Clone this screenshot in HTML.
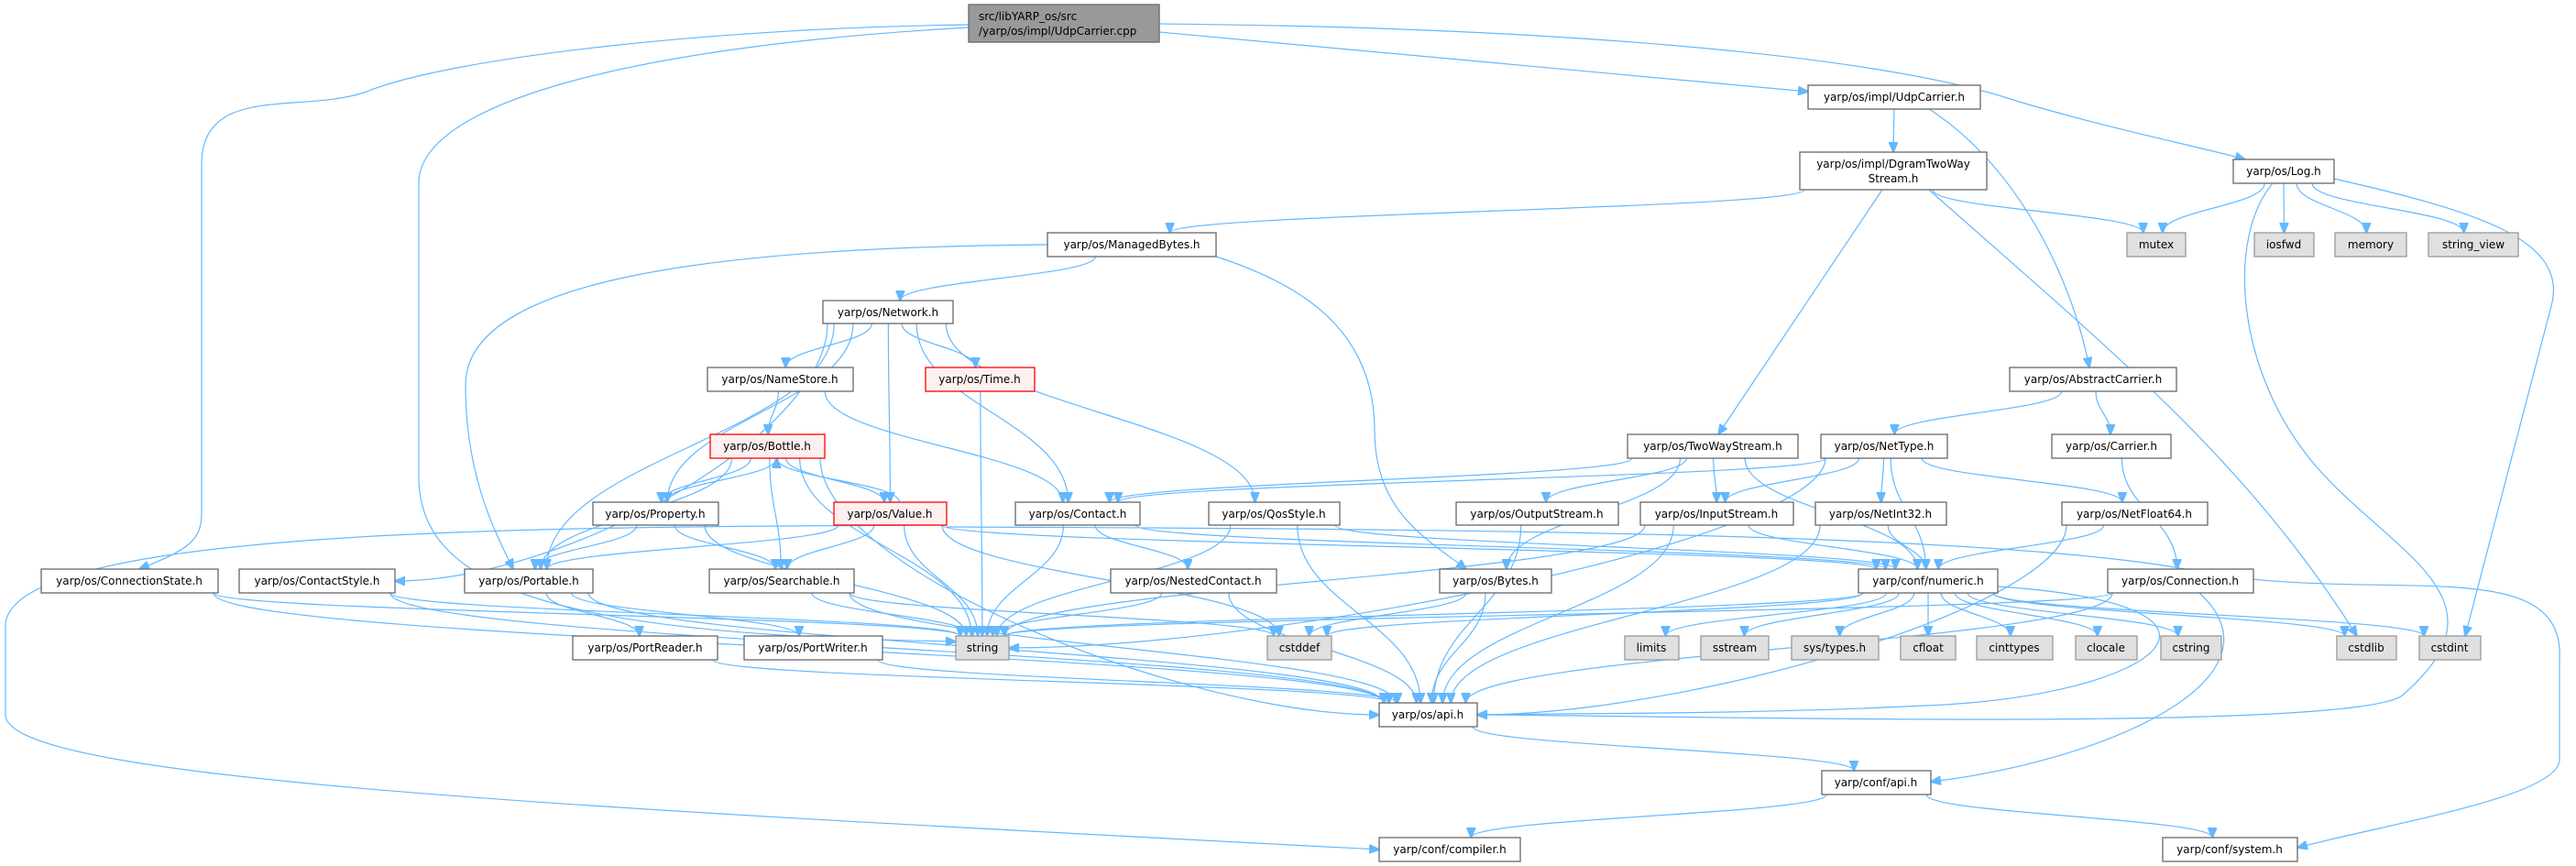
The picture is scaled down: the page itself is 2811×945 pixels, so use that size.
<!DOCTYPE html>
<html><head><meta charset="utf-8">
<style>
html,body{margin:0;padding:0;background:#fff;}
svg{display:block;}
text{font-family:"DejaVu Sans","Liberation Sans",sans-serif;font-size:12px;fill:#000;}
</style></head>
<body>
<svg id="g" width="2811" height="945" viewBox="0 0 2811 945" xmlns="http://www.w3.org/2000/svg">
<defs>
<marker id="ah" markerWidth="12" markerHeight="10" refX="11" refY="5" orient="auto" markerUnits="userSpaceOnUse">
<path d="M0,0 L12,5 L0,10 z" fill="#63b8ff" stroke="#63b8ff"/>
</marker>
</defs>
<g id="edges" fill="none" stroke="#63b8ff" stroke-width="1.2"></g>
<g id="nodes" stroke-width="1.3">
<rect x="1057" y="5" width="208" height="41" fill="#999999" stroke="#666666"/>
<text x="1068" y="22">src/libYARP_os/src</text><text x="1068" y="38">/yarp/os/impl/UdpCarrier.cpp</text>

<rect x="1973" y="93" width="188" height="26" fill="#fff" stroke="#666"/><text x="2067" y="110" text-anchor="middle">yarp/os/impl/UdpCarrier.h</text>
<rect x="1964" y="166" width="204" height="41" fill="#fff" stroke="#666"/><text x="2066" y="183" text-anchor="middle">yarp/os/impl/DgramTwoWay</text><text x="2066" y="199" text-anchor="middle">Stream.h</text>
<rect x="2437" y="174" width="110" height="26" fill="#fff" stroke="#666"/><text x="2492" y="191" text-anchor="middle">yarp/os/Log.h</text>
<rect x="2321" y="254" width="64" height="26" fill="#e0e0e0" stroke="#999"/><text x="2353" y="271" text-anchor="middle">mutex</text>
<rect x="2460" y="254" width="65" height="26" fill="#e0e0e0" stroke="#999"/><text x="2492" y="271" text-anchor="middle">iosfwd</text>
<rect x="2548" y="254" width="78" height="26" fill="#e0e0e0" stroke="#999"/><text x="2587" y="271" text-anchor="middle">memory</text>
<rect x="2650" y="254" width="98" height="26" fill="#e0e0e0" stroke="#999"/><text x="2699" y="271" text-anchor="middle">string_view</text>
<rect x="1143" y="254" width="184" height="26" fill="#fff" stroke="#666"/><text x="1235" y="271" text-anchor="middle">yarp/os/ManagedBytes.h</text>
<rect x="898" y="328" width="142" height="25" fill="#fff" stroke="#666"/><text x="969" y="345" text-anchor="middle">yarp/os/Network.h</text>
<rect x="772" y="401" width="159" height="26" fill="#fff" stroke="#666"/><text x="851" y="418" text-anchor="middle">yarp/os/NameStore.h</text>
<rect x="1010" y="401" width="119" height="26" fill="#fff0f0" stroke="#ff0000"/><text x="1069" y="418" text-anchor="middle">yarp/os/Time.h</text>
<rect x="2193" y="401" width="182" height="26" fill="#fff" stroke="#666"/><text x="2284" y="418" text-anchor="middle">yarp/os/AbstractCarrier.h</text>
<rect x="775" y="474" width="125" height="26" fill="#fff0f0" stroke="#ff0000"/><text x="837" y="491" text-anchor="middle">yarp/os/Bottle.h</text>
<rect x="1776" y="474" width="186" height="26" fill="#fff" stroke="#666"/><text x="1869" y="491" text-anchor="middle">yarp/os/TwoWayStream.h</text>
<rect x="1987" y="474" width="138" height="26" fill="#fff" stroke="#666"/><text x="2056" y="491" text-anchor="middle">yarp/os/NetType.h</text>
<rect x="2239" y="474" width="130" height="26" fill="#fff" stroke="#666"/><text x="2304" y="491" text-anchor="middle">yarp/os/Carrier.h</text>
<rect x="647" y="548" width="137" height="25" fill="#fff" stroke="#666"/><text x="715" y="565" text-anchor="middle">yarp/os/Property.h</text>
<rect x="910" y="548" width="123" height="25" fill="#fff0f0" stroke="#ff0000"/><text x="971" y="565" text-anchor="middle">yarp/os/Value.h</text>
<rect x="1108" y="548" width="136" height="25" fill="#fff" stroke="#666"/><text x="1176" y="565" text-anchor="middle">yarp/os/Contact.h</text>
<rect x="1319" y="548" width="143" height="25" fill="#fff" stroke="#666"/><text x="1390" y="565" text-anchor="middle">yarp/os/QosStyle.h</text>
<rect x="1589" y="548" width="177" height="25" fill="#fff" stroke="#666"/><text x="1677" y="565" text-anchor="middle">yarp/os/OutputStream.h</text>
<rect x="1790" y="548" width="167" height="25" fill="#fff" stroke="#666"/><text x="1873" y="565" text-anchor="middle">yarp/os/InputStream.h</text>
<rect x="1981" y="548" width="143" height="25" fill="#fff" stroke="#666"/><text x="2052" y="565" text-anchor="middle">yarp/os/NetInt32.h</text>
<rect x="2250" y="548" width="159" height="25" fill="#fff" stroke="#666"/><text x="2329" y="565" text-anchor="middle">yarp/os/NetFloat64.h</text>
<rect x="45" y="621" width="193" height="26" fill="#fff" stroke="#666"/><text x="141" y="638" text-anchor="middle">yarp/os/ConnectionState.h</text>
<rect x="261" y="621" width="170" height="26" fill="#fff" stroke="#666"/><text x="346" y="638" text-anchor="middle">yarp/os/ContactStyle.h</text>
<rect x="507" y="621" width="140" height="26" fill="#fff" stroke="#666"/><text x="577" y="638" text-anchor="middle">yarp/os/Portable.h</text>
<rect x="774" y="621" width="158" height="26" fill="#fff" stroke="#666"/><text x="853" y="638" text-anchor="middle">yarp/os/Searchable.h</text>
<rect x="1212" y="621" width="181" height="26" fill="#fff" stroke="#666"/><text x="1302" y="638" text-anchor="middle">yarp/os/NestedContact.h</text>
<rect x="1571" y="621" width="122" height="26" fill="#fff" stroke="#666"/><text x="1632" y="638" text-anchor="middle">yarp/os/Bytes.h</text>
<rect x="2028" y="621" width="152" height="26" fill="#fff" stroke="#666"/><text x="2104" y="638" text-anchor="middle">yarp/conf/numeric.h</text>
<rect x="2300" y="621" width="159" height="26" fill="#fff" stroke="#666"/><text x="2379" y="638" text-anchor="middle">yarp/os/Connection.h</text>
<rect x="625" y="694" width="158" height="26" fill="#fff" stroke="#666"/><text x="704" y="711" text-anchor="middle">yarp/os/PortReader.h</text>
<rect x="812" y="694" width="151" height="26" fill="#fff" stroke="#666"/><text x="887" y="711" text-anchor="middle">yarp/os/PortWriter.h</text>
<rect x="1043" y="694" width="58" height="26" fill="#e0e0e0" stroke="#999"/><text x="1072" y="711" text-anchor="middle">string</text>
<rect x="1383" y="694" width="70" height="26" fill="#e0e0e0" stroke="#999"/><text x="1418" y="711" text-anchor="middle">cstddef</text>
<rect x="1773" y="694" width="59" height="26" fill="#e0e0e0" stroke="#999"/><text x="1802" y="711" text-anchor="middle">limits</text>
<rect x="1856" y="694" width="74" height="26" fill="#e0e0e0" stroke="#999"/><text x="1893" y="711" text-anchor="middle">sstream</text>
<rect x="1955" y="694" width="95" height="26" fill="#e0e0e0" stroke="#999"/><text x="2002" y="711" text-anchor="middle">sys/types.h</text>
<rect x="2074" y="694" width="60" height="26" fill="#e0e0e0" stroke="#999"/><text x="2104" y="711" text-anchor="middle">cfloat</text>
<rect x="2157" y="694" width="83" height="26" fill="#e0e0e0" stroke="#999"/><text x="2198" y="711" text-anchor="middle">cinttypes</text>
<rect x="2265" y="694" width="67" height="26" fill="#e0e0e0" stroke="#999"/><text x="2298" y="711" text-anchor="middle">clocale</text>
<rect x="2358" y="694" width="66" height="26" fill="#e0e0e0" stroke="#999"/><text x="2391" y="711" text-anchor="middle">cstring</text>
<rect x="2550" y="694" width="65" height="26" fill="#e0e0e0" stroke="#999"/><text x="2582" y="711" text-anchor="middle">cstdlib</text>
<rect x="2640" y="694" width="67" height="26" fill="#e0e0e0" stroke="#999"/><text x="2673" y="711" text-anchor="middle">cstdint</text>
<rect x="1505" y="767" width="107" height="26" fill="#fff" stroke="#666"/><text x="1558" y="784" text-anchor="middle">yarp/os/api.h</text>
<rect x="1988" y="841" width="119" height="26" fill="#fff" stroke="#666"/><text x="2047" y="858" text-anchor="middle">yarp/conf/api.h</text>
<rect x="1505" y="914" width="154" height="26" fill="#fff" stroke="#666"/><text x="1582" y="931" text-anchor="middle">yarp/conf/compiler.h</text>
<rect x="2360" y="914" width="147" height="26" fill="#fff" stroke="#666"/><text x="2433" y="931" text-anchor="middle">yarp/conf/system.h</text>
</g>
</svg>
<script>
var N={
T:[1057,5,208,41],UC:[1973,93,188,26],DG:[1964,166,204,41],LOG:[2437,174,110,26],
MUT:[2321,254,64,26],IOS:[2460,254,65,26],MEM:[2548,254,78,26],SV:[2650,254,98,26],
MB:[1143,254,184,26],NET:[898,328,142,25],NS:[772,401,159,26],TIME:[1010,401,119,26],
AC:[2193,401,182,26],BOT:[775,474,125,26],TWS:[1776,474,186,26],NT:[1987,474,138,26],
CAR:[2239,474,130,26],PROP:[647,548,137,25],VAL:[910,548,123,25],CON:[1108,548,136,25],
QOS:[1319,548,143,25],OS:[1589,548,177,25],IS:[1790,548,167,25],NI:[1981,548,143,25],
NF:[2250,548,159,25],CS:[45,621,193,26],CST:[261,621,170,26],POR:[507,621,140,26],
SEA:[774,621,158,26],NC:[1212,621,181,26],BY:[1571,621,122,26],NUM:[2028,621,152,26],
CONN:[2300,621,159,26],PR:[625,694,158,26],PW:[812,694,151,26],STR:[1043,694,58,26],
CDD:[1383,694,70,26],LIM:[1773,694,59,26],SS:[1856,694,74,26],ST:[1955,694,95,26],
CF:[2074,694,60,26],CIT:[2157,694,83,26],CLO:[2265,694,67,26],CSTR:[2358,694,66,26],
CSL:[2550,694,65,26],CSI:[2640,694,67,26],API:[1505,767,107,26],CAPI:[1988,841,119,26],
COMP:[1505,914,154,26],SYS:[2360,914,147,26]};
var C={
"T CS":"M1057,27 C800,30 500,60 400,100 C330,125 220,90 220,180 L220,560 C220,590 205,600 152,621",
"T STR":"M1057,30 C700,50 457,110 457,200 L457,520 C457,640 600,693 1043,700",
"T UC":"M1265,35 L1973,100",
"T LOG":"M1265,26 C1700,30 2050,60 2200,110 C2300,140 2400,160 2450,174",
"MB POR":"M1143,267 C800,270 508,300 508,420 C508,520 540,580 560,621",
"MB BY":"M1327,280 C1420,310 1500,360 1500,470 C1500,560 1560,590 1600,621",
"VAL COMP":"M1033,573 C600,575 20,575 6,680 L6,780 C6,850 600,880 1505,927",
"VAL SYS":"M1033,575 C1600,577 2200,582 2400,624 C2600,660 2800,600 2793,720 L2793,830 C2790,870 2600,900 2507,925",
"LOG API":"M2480,200 C2430,260 2440,400 2520,500 C2600,600 2750,650 2620,760 C2550,800 1800,780 1612,780",
"LOG CSI":"M2547,195 C2700,230 2800,260 2785,330 L2690,694",
"DG CSL":"M2105,207 C2300,380 2450,500 2572,694",
"DG TWS":"M2054,207 L1875,474",
"UC AC":"M2105,119 C2200,180 2260,300 2280,401",
"CONN CAPI":"M2400,647 C2500,740 2300,830 2107,853",
"NUM API":"M2180,640 C2480,660 2360,760 2100,770 C1900,780 1700,778 1612,780"
};
var E=[
"T UC","T LOG","T CS","T STR","UC DG","UC AC","DG MB","DG MUT","DG TWS","DG CSL",
"LOG MUT","LOG IOS","LOG MEM","LOG SV","LOG API","LOG CSI",
"AC NT","AC CAR","CAR CONN","MB NET","MB POR","MB BY",
"NET NS","NET TIME","NET VAL","NET CON","NET QOS","NET PROP","NET POR","NET CST",
"NS BOT","NS CON","TIME STR",
"BOT PROP","BOT VAL","BOT SEA","BOT POR","BOT STR","BOT API",
"PROP BOT","PROP POR","PROP SEA","PROP STR",
"VAL BOT","VAL SEA","VAL POR","VAL STR","VAL NUM","VAL CDD","VAL COMP","VAL SYS",
"CON STR","CON NC","CON NUM","QOS STR","QOS API","QOS NUM","NC STR","NC API",
"SEA STR","SEA CDD","SEA API","POR PR","POR PW","POR API","PR API","PW API",
"CS STR","CS API","CST STR","CST API",
"TWS CON","TWS OS","TWS IS","TWS BY","TWS NUM","OS API","IS STR","IS API","IS NUM",
"NT STR","NT IS","NT NI","NT NF","NT NUM","NT CON","NI NUM","NI API","NF NUM","NF API",
"BY CDD","BY API",
"NUM STR","NUM CDD","NUM LIM","NUM SS","NUM ST","NUM CF","NUM CIT","NUM CLO","NUM CSTR","NUM CSL","NUM CSI","NUM API",
"CONN STR","CONN API","CONN CAPI","API CAPI","CAPI COMP","CAPI SYS"];
var g=document.getElementById('edges'),ns="http://www.w3.org/2000/svg";
E.forEach(function(e){
 var p=e.split(" "),a=N[p[0]],b=N[p[1]];
 var ax=a[0]+a[2]/2,ay=a[1]+a[3]/2,bx=b[0]+b[2]/2,by=b[1]+b[3]/2,d;
 if(C[e]){d=C[e];}
 else if(b[1]>a[1]+a[3]){
   var sx=ax+(bx-ax)*0.15; sx=Math.max(a[0]+5,Math.min(a[0]+a[2]-5,sx));
   var ex=bx-(bx-ax)*0.05; ex=Math.max(b[0]+5,Math.min(b[0]+b[2]-5,ex));
   var sy=a[1]+a[3],ey=b[1],dy=(ey-sy)*0.45;
   if(Math.abs(bx-ax)>600&&b[1]-a[1]>150){
     if(bx>ax){ex=b[0];}else{ex=b[0]+b[2];}
     ey=by;
     d="M"+sx+","+sy+" C"+sx+","+(sy+dy)+" "+(ex+(ax-bx)*0.3)+","+ey+" "+ex+","+ey;
   } else d="M"+sx+","+sy+" C"+sx+","+(sy+dy)+" "+ex+","+(ey-dy)+" "+ex+","+ey;
 } else if(b[1]+b[3]<a[1]){
   var sy2=a[1],ey2=b[1]+b[3],dy2=(sy2-ey2)*0.45;
   d="M"+(ax+10)+","+sy2+" C"+(ax+10)+","+(sy2-dy2)+" "+(bx+10)+","+(ey2+dy2)+" "+(bx+10)+","+ey2;
 } else {
   var s=bx>ax?[a[0]+a[2],ay]:[a[0],ay],t=bx>ax?[b[0],by]:[b[0]+b[2],by];
   d="M"+s[0]+","+s[1]+" C"+((s[0]+t[0])/2)+","+s[1]+" "+((s[0]+t[0])/2)+","+t[1]+" "+t[0]+","+t[1];
 }
 var el=document.createElementNS(ns,"path");el.setAttribute("d",d);el.setAttribute("marker-end","url(#ah)");g.appendChild(el);
});
</script>
</body></html>
